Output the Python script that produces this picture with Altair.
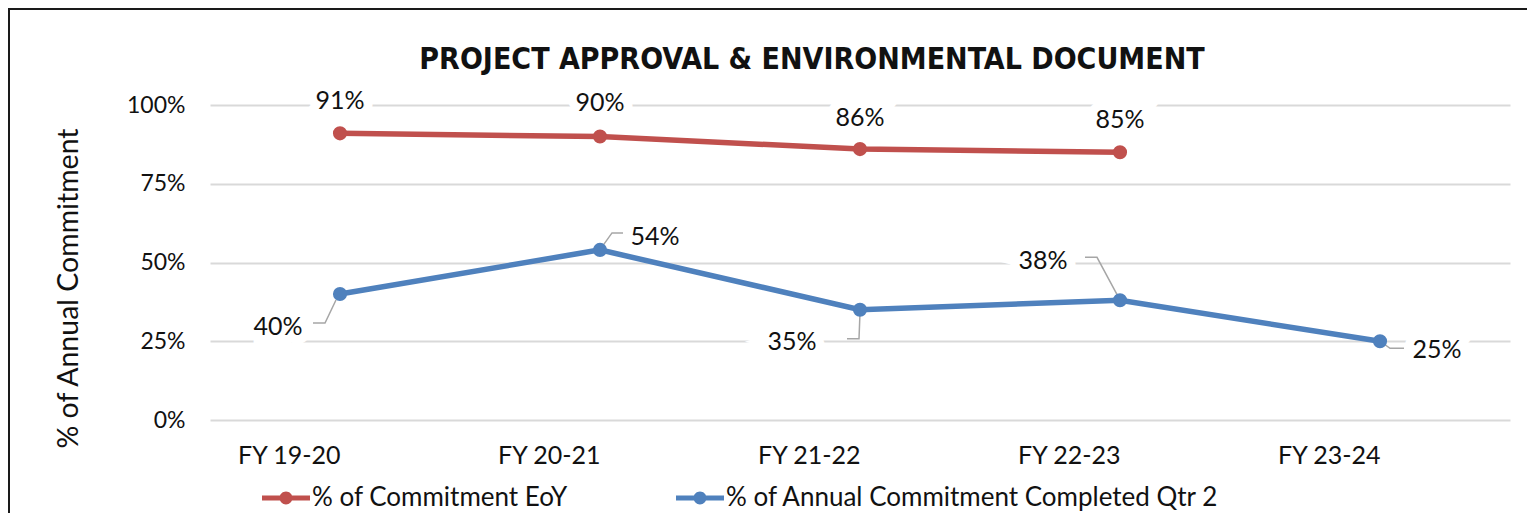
import altair as alt
import pandas as pd

categories = ["FY 19-20", "FY 20-21", "FY 21-22", "FY 22-23", "FY 23-24"]
eoy_values = [0.91, 0.90, 0.86, 0.85, None]
q2_values = [0.40, 0.54, 0.35, 0.38, 0.25]
series_names = ["% of Commitment EoY", "% of Annual Commitment Completed Qtr 2"]
series_colors = ["#C0504D", "#4F81BD"]
y_ticks = [0, 0.25, 0.5, 0.75, 1.0]
chart_title = "PROJECT APPROVAL & ENVIRONMENTAL DOCUMENT"

rows = []
for name, vals in zip(series_names, [eoy_values, q2_values]):
    for c, v in zip(categories, vals):
        if v is not None:
            rows.append({"series": name, "fy": c, "value": v})
df = pd.DataFrame(rows)

FONT = "Lato"
TXT = "#111111"

base = alt.Chart(df)
xenc = alt.X("fy:N", sort=categories, scale=alt.Scale(type="point", padding=0.5),
             axis=alt.Axis(title=None, labelFontSize=25, labelPadding=35, labelAngle=0,
                           ticks=False, domain=False, grid=False, labelColor=TXT,
                           labelFont=FONT, labelBaseline="middle"))
yenc = alt.Y("value:Q", scale=alt.Scale(domain=[0, 1]),
             axis=alt.Axis(title="% of Annual Commitment", values=y_ticks, format=".0%",
                           labelFontSize=23, labelPadding=25, ticks=False, domain=False,
                           grid=True, gridColor="#D9D9D9", gridWidth=2,
                           titleFontSize=28.5, titleFontWeight="normal", titleColor=TXT,
                           titleX=-142, titleY=183, titleAngle=-90, titleBaseline="middle",
                           labelColor=TXT, labelFont=FONT, titleFont=FONT))
cenc = alt.Color("series:N", sort=series_names,
                 scale=alt.Scale(domain=series_names, range=series_colors),
                 legend=alt.Legend(title=None, orient="none", direction="horizontal",
                                   legendX=52, legendY=369,
                                   symbolType="M-1,-0.1 H1 V0.1 H-1 Z M0.27,0 A0.27,0.27 0 1,1 -0.27,0 A0.27,0.27 0 1,1 0.27,0 Z",
                                   symbolSize=2304, symbolStrokeWidth=0, symbolOpacity=1,
                                   labelFontSize=26, labelColor=TXT, labelFont=FONT,
                                   labelLimit=0, labelOffset=2, columnPadding=108,
                                   padding=0))

lines = base.mark_line(strokeWidth=5.5).encode(x=xenc, y=yenc, color=cenc)
points = base.mark_circle(size=200, opacity=1).encode(x=xenc, y=yenc, color=cenc)

# per-label offsets: (fy, series index, dx, dy, leader path or None)
label_specs = [
    ("FY 19-20", 0, 0, -32, None),
    ("FY 20-21", 0, 0, -34, None),
    ("FY 21-22", 0, 0, -31, None),
    ("FY 22-23", 0, 0, -32, None),
    ("FY 19-20", 1, -62, 33, "M-4,6 L-15,29 L-27,29"),
    ("FY 20-21", 1, 55, -13, "M2,-3 L12,-17 L23,-17"),
    ("FY 21-22", 1, -68, 32, "M0,3 L-1,29 L-13,29"),
    ("FY 22-23", 1, -77, -39, "M-2,-4 L-23,-43 L-35,-43"),
    ("FY 23-24", 1, 57, 9, "M3,2 L10,7 L24,7"),
]

halo_layers, text_layers, leader_layers = [], [], []
for fy, si, dx, dy, path in label_specs:
    sel = base.transform_filter(
        (alt.datum.fy == fy) & (alt.datum.series == series_names[si]))
    enc = dict(x=alt.X("fy:N", sort=categories), y=alt.Y("value:Q"),
               text=alt.Text("value:Q", format=".0%"))
    halo_layers.append(sel.mark_text(dx=dx, dy=dy, fontSize=25, font=FONT, fill="white",
                                     stroke="white", strokeWidth=18, baseline="middle")
                       .encode(**enc))
    text_layers.append(sel.mark_text(dx=dx, dy=dy, fontSize=25, font=FONT, color=TXT,
                                     baseline="middle").encode(**enc))
    if path:
        leader_layers.append(sel.mark_point(shape=path, size=4, filled=False,
                                            stroke="#A6A6A6", strokeWidth=1.5, opacity=1)
                             .encode(x=alt.X("fy:N", sort=categories), y=alt.Y("value:Q")))

title_df = pd.DataFrame({"t": [chart_title]})
title_layer = alt.Chart(title_df).mark_text(
    fontSize=30, fontWeight="bold", font="DejaVu Sans Condensed", color=TXT,
    baseline="middle", align="center").encode(
    text="t:N", x=alt.value(602), y=alt.value(-45))

# outer chart frame (only its top and left edges fall inside the window)
frame = alt.Chart(title_df).mark_rect(filled=False, stroke="#1a1a1a", strokeWidth=2).encode(
    x=alt.value(-201), x2=alt.value(1500), y=alt.value(-96), y2=alt.value(700))

chart = alt.layer(
    frame, title_layer, *halo_layers, *leader_layers, lines, points, *text_layers
).properties(
    width=1300, height=315,
    background="white",
    autosize=alt.AutoSizeParams(type="none"),
    padding={"left": 202, "top": 97, "right": 17, "bottom": 93},
).configure_view(stroke="transparent", strokeWidth=0)

chart.save("out.html", embed_options={"renderer": "svg", "actions": False})
